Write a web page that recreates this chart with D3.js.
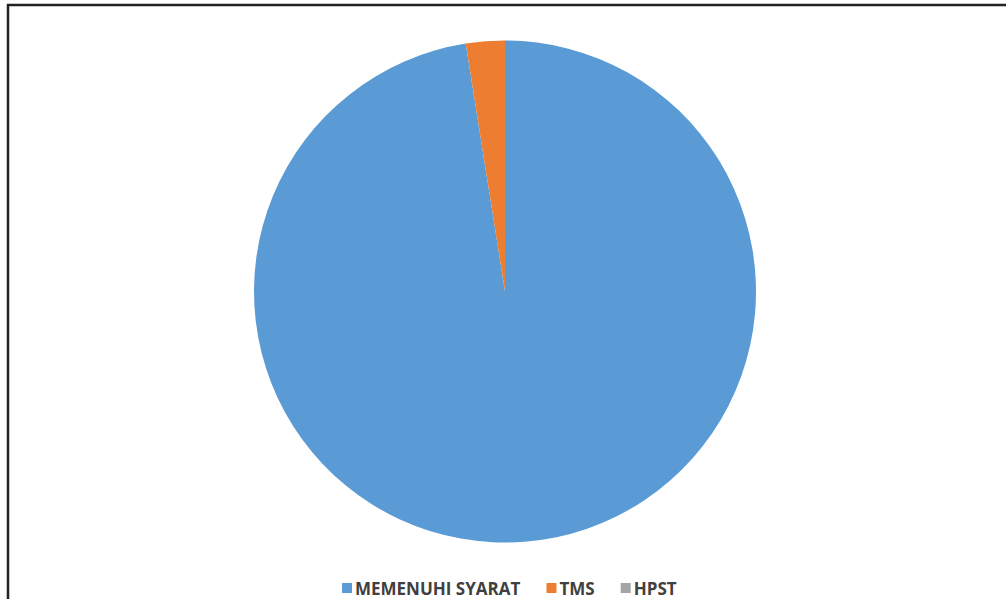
<!DOCTYPE html>
<html><head><meta charset="utf-8">
<script src="https://cdn.jsdelivr.net/npm/d3@7"></script>
<style>body{margin:0;background:#fff}svg{display:block}</style>
</head><body>
<svg id="c" width="1006" height="599"></svg>
<script>
const categories = ["MEMENUHI SYARAT", "TMS", "HPST"];
const values = [97.5, 2.5, 0];
const colors = ["#5B9BD5", "#ED7D31", "#A5A5A5"];

const svg = d3.select("#c");
// frame
svg.append("line").attr("x1", 7).attr("y1", 5).attr("x2", 1006).attr("y2", 5).attr("stroke", "#222").attr("stroke-width", 2.5);
svg.append("line").attr("x1", 8).attr("y1", 4).attr("x2", 8).attr("y2", 599).attr("stroke", "#222").attr("stroke-width", 2.5);

const cx = 505, cy = 291.5, r = 251;
const pie = d3.pie().sort(null).value(d => d)(values);
const arc = d3.arc().innerRadius(0).outerRadius(r);
const color = d3.scaleOrdinal().domain(categories).range(colors);
svg.append("g").attr("transform", `translate(${cx},${cy})`)
  .selectAll("path").data(pie).join("path")
  .attr("d", arc).attr("fill", (d, i) => color(categories[i]));

// legend
const lg = svg.append("g").attr("font-family", "Open Sans, Liberation Sans, sans-serif")
  .attr("font-weight", "bold").attr("font-size", 17).attr("fill", "#404040");
const items = lg.selectAll("g").data(categories).join("g");
items.append("rect").attr("width", 10).attr("height", 10).attr("y", 583).attr("fill", d => color(d));
items.append("text").attr("x", 13).attr("y", 594.5).text(d => d);
let x = 342;
items.each(function() {
  const g = d3.select(this);
  g.attr("transform", `translate(${x},0)`);
  x += this.getBBox().width + 26;
});
</script>
</body></html>
